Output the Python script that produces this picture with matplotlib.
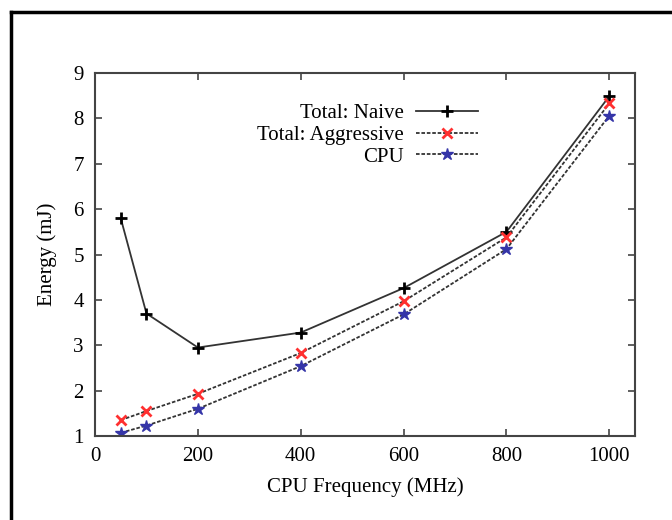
import matplotlib
matplotlib.use('Agg')
import matplotlib.pyplot as plt
from matplotlib.lines import Line2D

# cpu frequency (MHz)
freq = [50, 100, 200, 400, 600, 800, 1000]
# energy (mJ)
naive = [5.8, 3.7, 2.95, 3.28, 4.26, 5.5, 8.49]
aggressive = [1.35, 1.55, 1.93, 2.83, 3.97, 5.38, 8.33]
cpu = [1.07, 1.23, 1.6, 2.54, 3.68, 5.12, 8.06]

xticks = [0, 200, 400, 600, 800, 1000]
yticks = [1, 2, 3, 4, 5, 6, 7, 8, 9]

plt.rcParams['font.family'] = ['Liberation Serif', 'DejaVu Serif']
plt.rcParams['font.size'] = 15

fig = plt.figure(figsize=(6.72, 5.2), dpi=100)
ax = fig.add_axes([0.1414, 0.1615, 0.8036, 0.6981])

line_col = '#333333'
ax.plot(freq, naive, color=line_col, lw=1.3, marker='+', ms=8, mew=2,
        mec='black', label='Total: Naive')
ax.plot(freq, aggressive, color=line_col, lw=1.3, ls=(0, (2, 1)), marker='x', ms=7,
        mew=2, mec='#ff3030', label='Total: Aggressive')
ax.plot(freq, cpu, color=line_col, lw=1.3, ls=(0, (2, 1)), marker='*', ms=9,
        mew=1, mec='#3535a8', mfc='#3535a8', label='CPU')

ax.set_xlim(0, 1050)
ax.set_ylim(1, 9)
ax.set_xticks(xticks)
ax.set_yticks(yticks)
ax.tick_params(direction='in', top=True, right=True, length=5, width=1.2,
               color='#444444', pad=8)
for s in ax.spines.values():
    s.set_linewidth(1.5)
    s.set_color('#444444')

ax.set_xlabel('CPU Frequency (MHz)', labelpad=8)
ax.set_ylabel('Energy (mJ)', labelpad=12)

leg = ax.legend(loc='upper right', bbox_to_anchor=(0.71, 0.915), frameon=False,
                markerfirst=False, handlelength=3.0, labelspacing=0.1,
                handletextpad=0.6, borderaxespad=0, borderpad=0)
for t in leg.get_texts():
    t.set_ha('right')
leg._legend_box.align = 'right'

# page frame
fig.add_artist(Line2D([0.0164, 1.0], [0.977, 0.977], color='black', lw=2.5))
fig.add_artist(Line2D([0.0164, 0.0164], [0.0, 0.977], color='black', lw=2.5))

fig.savefig('out.png', dpi=100)
